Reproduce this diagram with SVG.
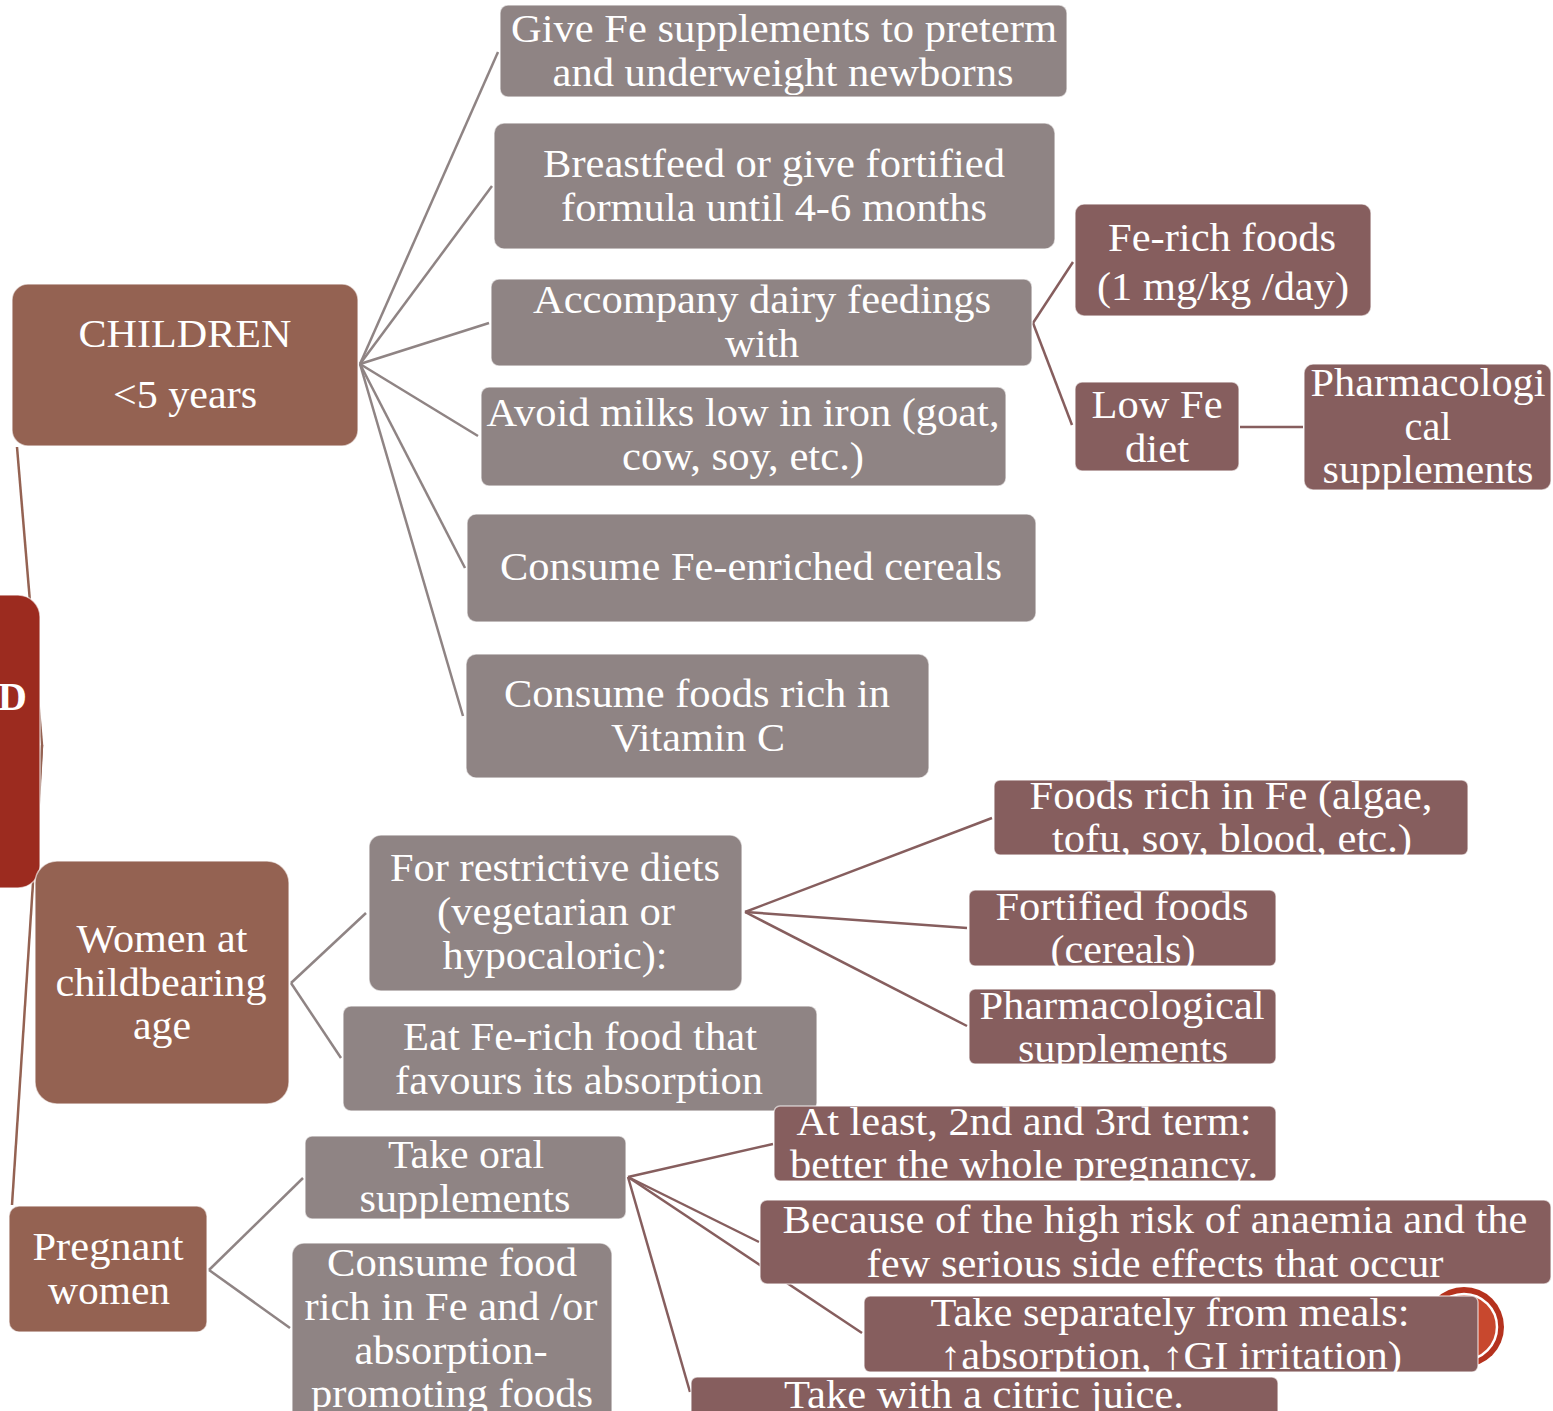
<svg xmlns="http://www.w3.org/2000/svg" width="1553" height="1411" viewBox="0 0 1553 1411">
  <style>
    .lvl1 { fill: #946252; stroke: #ffffff; stroke-opacity: 0.6; stroke-width: 1.5; }
    .lvl2 { fill: #8f8484; stroke: #ffffff; stroke-opacity: 0.6; stroke-width: 1.5; }
    .lvl3 { fill: #865e5e; stroke: #ffffff; stroke-opacity: 0.6; stroke-width: 1.5; }
    .root { fill: #9c2b1f; stroke: #ffffff; stroke-opacity: 0.6; stroke-width: 1.5; }
    text { font-family: "Liberation Serif", "Times New Roman", serif; font-size: 40px; fill: #ffffff; text-anchor: middle; }
    .c-root { stroke: #946252; stroke-width: 2.5; fill: none; }
    .c-grey { stroke: #8f8484; stroke-width: 2.5; fill: none; }
    .c-mauve { stroke: #865e5e; stroke-width: 2.5; fill: none; }
  </style>
  <defs>
    <clipPath id="clip-f1"><rect x="994" y="780" width="474" height="75" rx="6"/></clipPath>
    <clipPath id="clip-f2"><rect x="969" y="890" width="307" height="76" rx="6"/></clipPath>
    <clipPath id="clip-f3"><rect x="969" y="989" width="307" height="75" rx="6"/></clipPath>
    <clipPath id="clip-q1"><rect x="774" y="1106" width="502" height="75" rx="6"/></clipPath>
    <clipPath id="clip-q3"><rect x="864" y="1296" width="614" height="76" rx="6"/></clipPath>
  </defs>

  <!-- connectors -->
  <g id="connectors">
    <!-- root to groups -->
    <line class="c-root" x1="42" y1="745" x2="17" y2="447"/>
    <line class="c-root" x1="42" y1="745" x2="35" y2="875"/>
    <line class="c-root" x1="42" y1="745" x2="12" y2="1205"/>
    <!-- children -->
    <line class="c-grey" x1="360" y1="364" x2="498" y2="52"/>
    <line class="c-grey" x1="360" y1="364" x2="492" y2="186"/>
    <line class="c-grey" x1="360" y1="364" x2="489" y2="323"/>
    <line class="c-grey" x1="360" y1="364" x2="478" y2="436"/>
    <line class="c-grey" x1="360" y1="364" x2="465" y2="568"/>
    <line class="c-grey" x1="360" y1="364" x2="463" y2="716"/>
    <line class="c-mauve" x1="1033" y1="323" x2="1073" y2="262"/>
    <line class="c-mauve" x1="1033" y1="323" x2="1072" y2="425"/>
    <line class="c-mauve" x1="1240" y1="427" x2="1303" y2="427"/>
    <!-- women at childbearing age -->
    <line class="c-grey" x1="291" y1="983" x2="366" y2="913"/>
    <line class="c-grey" x1="291" y1="983" x2="341" y2="1058"/>
    <line class="c-mauve" x1="745" y1="912" x2="992" y2="818"/>
    <line class="c-mauve" x1="745" y1="912" x2="967" y2="928"/>
    <line class="c-mauve" x1="745" y1="912" x2="967" y2="1026"/>
    <!-- pregnant women -->
    <line class="c-grey" x1="209" y1="1270" x2="303" y2="1178"/>
    <line class="c-grey" x1="209" y1="1270" x2="290" y2="1328"/>
    <line class="c-mauve" x1="628" y1="1177" x2="773" y2="1144"/>
    <line class="c-mauve" x1="628" y1="1177" x2="759" y2="1242"/>
    <line class="c-mauve" x1="628" y1="1177" x2="862" y2="1333"/>
    <line class="c-mauve" x1="628" y1="1177" x2="690" y2="1392"/>
  </g>

  <!-- root -->
  <g id="root">
    <rect class="root" x="-40" y="595" width="80" height="293" rx="22"/>
    <text x="-2" y="710" style="text-anchor:start;font-weight:bold">D</text>
  </g>

  <!-- level 1 -->
  <g id="children">
    <rect class="lvl1" x="12" y="284" width="346" height="162" rx="16"/>
    <text x="185" y="347" textLength="213" lengthAdjust="spacingAndGlyphs">CHILDREN</text>
    <text x="185" y="408" textLength="144" lengthAdjust="spacingAndGlyphs">&lt;5 years</text>
  </g>
  <g id="women">
    <rect class="lvl1" x="35" y="861" width="254" height="243" rx="22"/>
    <text x="162" y="952" textLength="171" lengthAdjust="spacingAndGlyphs">Women at</text>
    <text x="161" y="996" textLength="211" lengthAdjust="spacingAndGlyphs">childbearing</text>
    <text x="162" y="1039" textLength="58" lengthAdjust="spacingAndGlyphs">age</text>
  </g>
  <g id="pregnant">
    <rect class="lvl1" x="9" y="1206" width="198" height="126" rx="10"/>
    <text x="108" y="1260" textLength="151" lengthAdjust="spacingAndGlyphs">Pregnant</text>
    <text x="109" y="1304" textLength="122" lengthAdjust="spacingAndGlyphs">women</text>
  </g>

  <!-- children: actions -->
  <g id="fe-supplements">
    <rect class="lvl2" x="500" y="5" width="567" height="92" rx="8"/>
    <text x="784" y="42" textLength="546" lengthAdjust="spacingAndGlyphs">Give Fe supplements to preterm</text>
    <text x="783" y="86" textLength="461" lengthAdjust="spacingAndGlyphs">and underweight newborns</text>
  </g>
  <g id="breastfeed">
    <rect class="lvl2" x="494" y="123" width="561" height="126" rx="10"/>
    <text x="774" y="177" textLength="462" lengthAdjust="spacingAndGlyphs">Breastfeed or give fortified</text>
    <text x="774" y="221" textLength="426" lengthAdjust="spacingAndGlyphs">formula until 4-6 months</text>
  </g>
  <g id="dairy">
    <rect class="lvl2" x="491" y="279" width="541" height="87" rx="8"/>
    <text x="762" y="313" textLength="458" lengthAdjust="spacingAndGlyphs">Accompany dairy feedings</text>
    <text x="762" y="357" textLength="74" lengthAdjust="spacingAndGlyphs">with</text>
  </g>
  <g id="avoid-milks">
    <rect class="lvl2" x="481" y="387" width="525" height="99" rx="8"/>
    <text x="743" y="426" textLength="513" lengthAdjust="spacingAndGlyphs">Avoid milks low in iron (goat,</text>
    <text x="743" y="470" textLength="242" lengthAdjust="spacingAndGlyphs">cow, soy, etc.)</text>
  </g>
  <g id="cereals">
    <rect class="lvl2" x="467" y="514" width="569" height="108" rx="9"/>
    <text x="751" y="580" textLength="502" lengthAdjust="spacingAndGlyphs">Consume Fe-enriched cereals</text>
  </g>
  <g id="vitamin-c">
    <rect class="lvl2" x="466" y="654" width="463" height="124" rx="10"/>
    <text x="697" y="707" textLength="386" lengthAdjust="spacingAndGlyphs">Consume foods rich in</text>
    <text x="698" y="751" textLength="174" lengthAdjust="spacingAndGlyphs">Vitamin C</text>
  </g>
  <g id="fe-rich-foods">
    <rect class="lvl3" x="1075" y="204" width="296" height="112" rx="9"/>
    <text x="1222" y="251" textLength="228" lengthAdjust="spacingAndGlyphs">Fe-rich foods</text>
    <text x="1223" y="300" textLength="252" lengthAdjust="spacingAndGlyphs">(1 mg/kg /day)</text>
  </g>
  <g id="low-fe-diet">
    <rect class="lvl3" x="1075" y="382" width="164" height="89" rx="7"/>
    <text x="1157" y="418" textLength="131" lengthAdjust="spacingAndGlyphs">Low Fe</text>
    <text x="1157" y="462" textLength="64" lengthAdjust="spacingAndGlyphs">diet</text>
  </g>
  <g id="pharma-children">
    <rect class="lvl3" x="1304" y="364" width="247" height="126" rx="9"/>
    <text x="1428" y="396" textLength="235" lengthAdjust="spacingAndGlyphs">Pharmacologi</text>
    <text x="1428" y="440" textLength="47" lengthAdjust="spacingAndGlyphs">cal</text>
    <text x="1428" y="483" textLength="211" lengthAdjust="spacingAndGlyphs">supplements</text>
  </g>

  <!-- women: actions -->
  <g id="restrictive-diets">
    <rect class="lvl2" x="369" y="835" width="373" height="156" rx="12"/>
    <text x="555" y="881" textLength="330" lengthAdjust="spacingAndGlyphs">For restrictive diets</text>
    <text x="556" y="925" textLength="238" lengthAdjust="spacingAndGlyphs">(vegetarian or</text>
    <text x="555" y="969" textLength="225" lengthAdjust="spacingAndGlyphs">hypocaloric):</text>
  </g>
  <g id="eat-fe-rich">
    <rect class="lvl2" x="343" y="1006" width="474" height="105" rx="8"/>
    <text x="580" y="1050" textLength="354" lengthAdjust="spacingAndGlyphs">Eat Fe-rich food that</text>
    <text x="579" y="1094" textLength="368" lengthAdjust="spacingAndGlyphs">favours its absorption</text>
  </g>
  <g id="foods-rich-fe">
    <rect class="lvl3" x="994" y="780" width="474" height="75" rx="6"/>
    <g clip-path="url(#clip-f1)">
      <text x="1231" y="809" textLength="403" lengthAdjust="spacingAndGlyphs">Foods rich in Fe (algae,</text>
      <text x="1232" y="852" textLength="360" lengthAdjust="spacingAndGlyphs">tofu, soy, blood, etc.)</text>
    </g>
  </g>
  <g id="fortified-foods">
    <rect class="lvl3" x="969" y="890" width="307" height="76" rx="6"/>
    <g clip-path="url(#clip-f2)">
      <text x="1122" y="920" textLength="253" lengthAdjust="spacingAndGlyphs">Fortified foods</text>
      <text x="1123" y="963" textLength="145" lengthAdjust="spacingAndGlyphs">(cereals)</text>
    </g>
  </g>
  <g id="pharma-women">
    <rect class="lvl3" x="969" y="989" width="307" height="75" rx="6"/>
    <g clip-path="url(#clip-f3)">
      <text x="1122" y="1019" textLength="285" lengthAdjust="spacingAndGlyphs">Pharmacological</text>
      <text x="1123" y="1062" textLength="210" lengthAdjust="spacingAndGlyphs">supplements</text>
    </g>
  </g>

  <!-- pregnant women: actions -->
  <g id="oral-supplements">
    <rect class="lvl2" x="305" y="1136" width="321" height="83" rx="7"/>
    <text x="466" y="1168" textLength="156" lengthAdjust="spacingAndGlyphs">Take oral</text>
    <text x="465" y="1212" textLength="211" lengthAdjust="spacingAndGlyphs">supplements</text>
  </g>
  <g id="consume-food">
    <rect class="lvl2" x="292" y="1243" width="320" height="190" rx="12"/>
    <text x="452" y="1276" textLength="250" lengthAdjust="spacingAndGlyphs">Consume food</text>
    <text x="451" y="1320" textLength="293" lengthAdjust="spacingAndGlyphs">rich in Fe and /or</text>
    <text x="451" y="1364" textLength="193" lengthAdjust="spacingAndGlyphs">absorption-</text>
    <text x="452" y="1407" textLength="282" lengthAdjust="spacingAndGlyphs">promoting foods</text>
  </g>
  <g id="term">
    <rect class="lvl3" x="774" y="1106" width="502" height="75" rx="6"/>
    <g clip-path="url(#clip-q1)">
      <text x="1024" y="1135" textLength="455" lengthAdjust="spacingAndGlyphs">At least, 2nd and 3rd term:</text>
      <text x="1024" y="1178" textLength="468" lengthAdjust="spacingAndGlyphs">better the whole pregnancy.</text>
    </g>
  </g>
  <g id="high-risk">
    <rect class="lvl3" x="760" y="1200" width="791" height="84" rx="7"/>
    <text x="1155" y="1233" textLength="745" lengthAdjust="spacingAndGlyphs">Because of the high risk of anaemia and the</text>
    <text x="1155" y="1277" textLength="577" lengthAdjust="spacingAndGlyphs">few serious side effects that occur</text>
  </g>
  <!-- ornament disc behind the meals box -->
  <g id="ornament">
    <circle cx="1464" cy="1327" r="40" fill="#b5321e"/>
    <circle cx="1464" cy="1327" r="33" fill="#c8482e" stroke="#ffffff" stroke-width="2.5"/>
  </g>
  <g id="separate-meals">
    <rect class="lvl3" x="864" y="1296" width="614" height="76" rx="6"/>
    <g clip-path="url(#clip-q3)">
      <text x="1170" y="1326" textLength="479" lengthAdjust="spacingAndGlyphs">Take separately from meals:</text>
      <text x="1171" y="1369" textLength="462" lengthAdjust="spacingAndGlyphs">↑absorption, ↑GI irritation)</text>
    </g>
  </g>
  <g id="citric-juice">
    <rect class="lvl3" x="691" y="1377" width="587" height="60" rx="6"/>
    <text x="984" y="1408" textLength="400" lengthAdjust="spacingAndGlyphs">Take with a citric juice.</text>
  </g>
</svg>
